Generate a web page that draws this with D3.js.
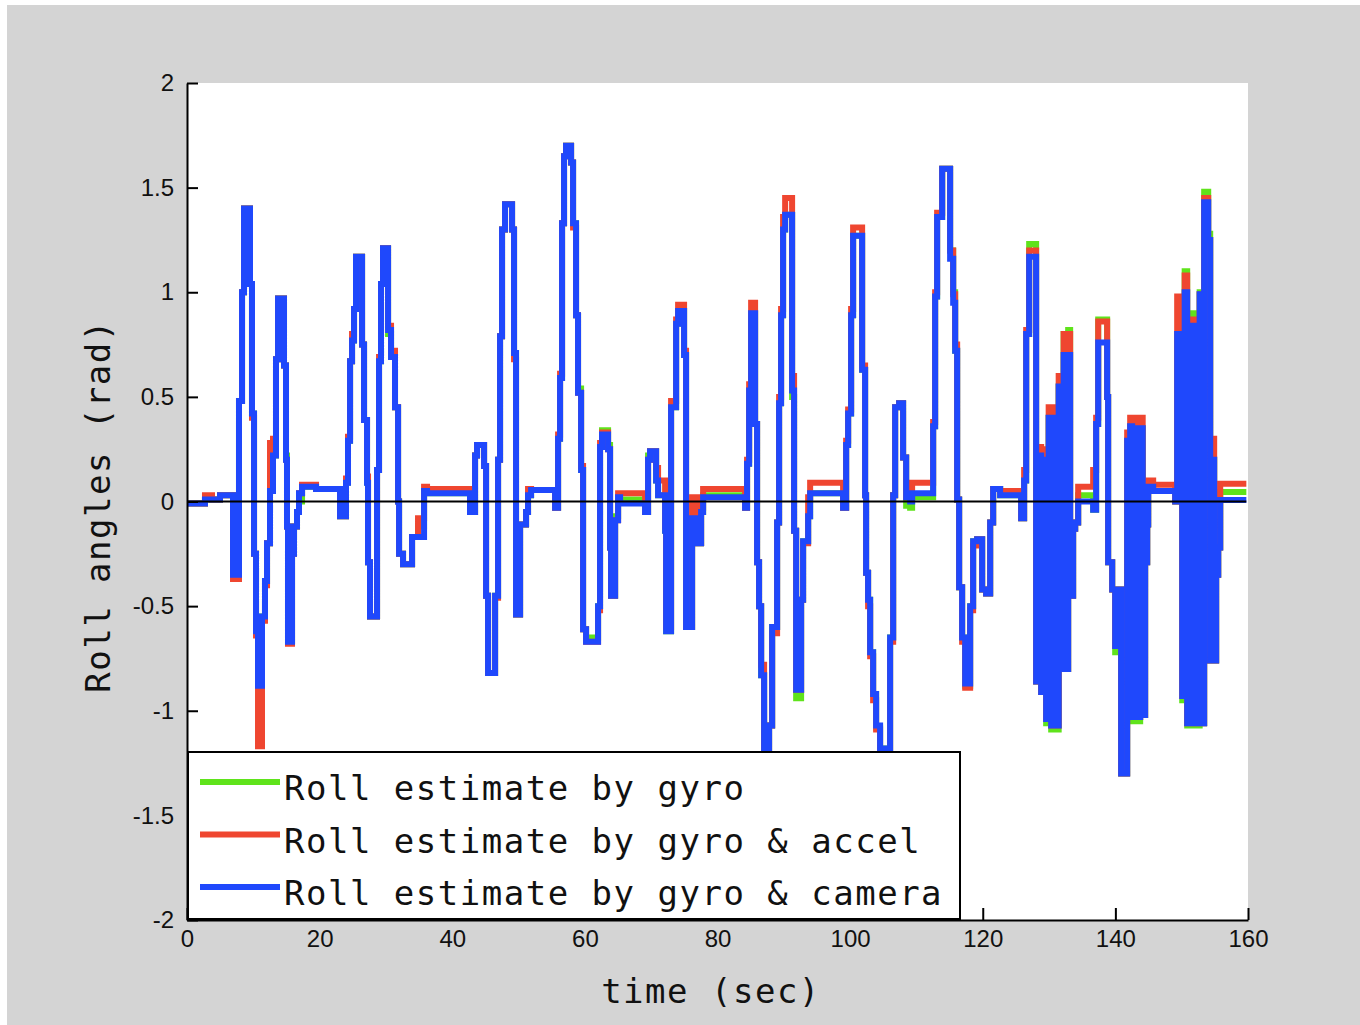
<!DOCTYPE html>
<html>
<head>
<meta charset="utf-8">
<script src="https://cdn.jsdelivr.net/npm/d3@7"></script>
<style>
  html, body { margin: 0; padding: 0; background: #fff; }
  svg { display: block; }
</style>
</head>
<body>
<svg id="chart" width="1360" height="1025"></svg>
<script>
// Sample times (sec) where the staircase estimates change value
const time = [
  0, 2.71, 3.77, 4.98, 6.94, 7.84, 8.30, 8.60, 9.50, 9.80,
  10.11, 10.41, 10.71, 11.31, 11.76, 12.07, 12.52, 12.97, 13.42, 13.73,
  14.63, 14.93, 15.08, 15.23, 15.84, 16.14, 16.59, 16.89, 17.35, 19.46,
  23.08, 23.98, 24.28, 24.59, 24.89, 25.19, 25.49, 26.40, 26.70, 27.15,
  27.30, 27.60, 28.66, 28.96, 29.26, 29.56, 30.32, 30.77, 31.37, 31.83,
  31.98, 32.58, 33.94, 34.84, 35.75, 36.20, 42.68, 43.44, 43.74, 44.80,
  45.10, 45.40, 46.46, 46.91, 47.21, 47.51, 47.96, 49.02, 49.32, 49.62,
  50.23, 51.13, 51.43, 51.89, 55.51, 55.96, 56.26, 56.56, 56.86, 57.16,
  57.92, 58.22, 58.67, 58.97, 59.43, 59.73, 60.18, 61.99, 62.29, 62.59,
  63.50, 63.80, 63.95, 64.56, 65.01, 65.31, 69.08, 69.53, 69.83, 70.74,
  71.04, 72.10, 72.25, 73.00, 73.76, 74.06, 74.96, 75.26, 76.17, 76.92,
  77.53, 77.83, 84.16, 84.46, 84.77, 85.07, 85.67, 85.97, 86.27, 86.58,
  87.03, 87.78, 88.24, 88.99, 89.29, 89.59, 89.89, 90.20, 91.25, 91.55,
  91.86, 92.61, 92.91, 93.67, 93.97, 98.94, 99.40, 99.70, 100.15, 100.45,
  101.81, 102.26, 102.41, 102.71, 103.02, 103.47, 103.92, 104.52, 106.03, 106.49,
  106.79, 107.39, 107.99, 108.45, 109.05, 109.35, 112.52, 112.82, 113.12, 113.88,
  115.08, 115.54, 115.84, 116.14, 116.44, 116.89, 117.35, 118.10, 118.55, 119.16,
  119.91, 120.51, 121.12, 121.57, 122.62, 125.79, 126.24, 126.55, 127.00, 128.05,
  128.43, 128.81, 129.19, 129.56, 129.94, 130.32, 130.69, 131.07, 131.45, 131.83,
  132.20, 132.58, 132.88, 133.18, 133.63, 133.94, 134.39, 136.65, 137.10, 137.41,
  138.76, 138.91, 139.52, 139.97, 140.57, 140.87, 141.78, 142.23, 142.53, 142.99,
  143.36, 143.74, 144.12, 144.49, 144.80, 144.95, 145.70, 149.02, 149.32, 150.08,
  150.45, 150.83, 151.21, 151.58, 151.96, 152.34, 152.71, 153.09, 153.39, 154.00,
  154.30, 154.68, 154.90, 155.20, 155.51, 155.81, 159.75
];

// Roll estimate by gyro (rad)
const gyro = [
  -0.01, 0.01, 0.01, 0.03, -0.35, 0.48, 1.0, 1.40, 1.04, 0.42,
  -0.25, -0.62, -0.88, -0.55, -0.38, -0.2, 0.1, 0.22, 0.68, 0.97,
  0.65, 0.22, -0.12, -0.67, -0.25, -0.12, -0.05, 0.0, 0.07, 0.06,
  -0.07, 0.09, 0.29, 0.67, 0.77, 0.92, 1.17, 0.75, 0.39, 0.09,
  -0.29, -0.55, 0.15, 0.67, 1.04, 1.21, 0.80, 0.69, 0.45, 0.0,
  -0.25, -0.3, -0.17, -0.12, 0.05, 0.04, -0.05, 0.22, 0.27, 0.17,
  -0.45, -0.82, -0.45, 0.2, 0.79, 1.3, 1.42, 1.3, 0.71, -0.54,
  -0.11, -0.05, 0.03, 0.055, -0.03, 0.3, 0.59, 1.33, 1.65, 1.70,
  1.62, 1.33, 0.89, 0.54, 0.15, -0.61, -0.65, -0.5, 0.26, 0.34,
  0.27, -0.22, -0.45, -0.07, 0.02, 0.01, -0.05, 0.22, 0.24, 0.1,
  0.03, -0.14, -0.62, 0.45, 0.85, 0.91, 0.7, -0.6, -0.08, -0.2,
  -0.05, 0.03, -0.03, 0.18, 0.53, 0.9, 0.37, -0.29, -0.5, -0.83,
  -1.19, -1.07, -0.6, -0.1, 0.47, 0.89, 1.3, 1.37, 0.5, -0.14,
  -0.94, -0.47, -0.19, -0.07, 0.04, -0.03, 0.27, 0.42, 0.89, 1.27,
  0.63, 0.03, -0.34, -0.47, -0.72, -0.92, -1.08, -1.18, -0.65, 0.03,
  0.45, 0.47, 0.21, -0.02, -0.03, 0.02, 0.36, 0.98, 1.36, 1.59,
  1.2, 1.0, 0.72, 0.01, -0.41, -0.65, -0.88, -0.5, -0.19, -0.18,
  -0.42, -0.44, -0.1, 0.06, 0.03, -0.08, 0.1, 0.8, 1.23, -0.86,
  0.22, -0.91, 0.2, -1.06, 0.4, -1.09, 0.4, -1.09, 0.55, -0.8,
  0.8, -0.8, 0.82, -0.45, -0.13, -0.1, 0.03, -0.04, 0.37, 0.87,
  0.5, -0.29, -0.42, -0.72, -0.42, -1.3, 0.29, 0.36, -1.05, 0.35,
  -1.05, 0.35, -1.02, -0.29, -0.11, 0.07, 0.05, 0.0, 0.8, -0.95,
  1.1, -1.07, 0.9, -1.07, 0.9, -1.07, 1.0, -1.06, 1.48, 1.28,
  -0.76, 0.2, -0.76, -0.35, -0.22, 0.045, 0.045
];

// Roll estimate by gyro & accel (rad)
const gyroAccel = [
  -0.01, 0.03, 0.01, 0.03, -0.37, 0.48, 1.0, 1.40, 1.04, 0.40,
  -0.25, -0.64, -1.17, -0.57, -0.40, -0.2, 0.28, 0.3, 0.68, 0.97,
  0.65, 0.2, -0.12, -0.68, -0.25, -0.12, -0.05, 0.04, 0.08, 0.06,
  -0.07, 0.11, 0.31, 0.67, 0.80, 0.92, 1.17, 0.75, 0.39, 0.12,
  -0.29, -0.55, 0.15, 0.69, 1.04, 1.21, 0.84, 0.72, 0.45, 0.0,
  -0.25, -0.3, -0.17, -0.08, 0.07, 0.06, -0.05, 0.22, 0.27, 0.17,
  -0.45, -0.82, -0.46, 0.2, 0.79, 1.3, 1.42, 1.3, 0.68, -0.54,
  -0.11, -0.05, 0.06, 0.055, -0.03, 0.32, 0.61, 1.33, 1.65, 1.70,
  1.62, 1.31, 0.89, 0.52, 0.17, -0.61, -0.67, -0.52, 0.28, 0.33,
  0.25, -0.22, -0.45, -0.09, 0.04, 0.04, -0.05, 0.2, 0.24, 0.16,
  0.1, -0.12, -0.60, 0.48, 0.87, 0.94, 0.72, -0.6, 0.02, -0.2,
  -0.03, 0.06, -0.03, 0.2, 0.56, 0.95, 0.37, -0.29, -0.5, -0.78,
  -1.19, -1.07, -0.63, -0.1, 0.5, 0.92, 1.36, 1.45, 0.6, -0.14,
  -0.9, -0.47, -0.2, 0.02, 0.09, -0.03, 0.29, 0.44, 0.92, 1.31,
  0.65, 0.03, -0.34, -0.5, -0.74, -0.95, -1.09, -1.2, -0.67, 0.03,
  0.45, 0.47, 0.21, 0.02, 0.02, 0.09, 0.38, 1.0, 1.38, 1.59,
  1.2, 0.99, 0.75, 0.01, -0.41, -0.67, -0.89, -0.52, -0.21, -0.18,
  -0.42, -0.44, -0.1, 0.06, 0.05, -0.08, 0.15, 0.82, 1.2, -0.86,
  0.26, -0.91, 0.25, -1.04, 0.45, -1.07, 0.45, -1.07, 0.6, -0.8,
  0.8, -0.8, 0.8, -0.45, -0.13, -0.1, 0.07, 0.15, 0.4, 0.86,
  0.5, -0.29, -0.42, -0.69, -0.42, -1.3, 0.33, 0.4, -1.03, 0.4,
  -1.03, 0.4, -1.02, -0.29, -0.11, 0.1, 0.08, 0.0, 0.98, -0.93,
  1.08, -1.06, 0.87, -1.06, 0.87, -1.06, 0.99, -1.06, 1.45, 1.25,
  -0.76, 0.3, -0.76, -0.35, -0.22, 0.085, 0.085
];

// Roll estimate by gyro & camera (rad)
const gyroCamera = [
  -0.01, 0.01, 0.01, 0.03, -0.35, 0.48, 1.0, 1.40, 1.04, 0.42,
  -0.25, -0.62, -0.88, -0.55, -0.38, -0.2, 0.05, 0.22, 0.68, 0.97,
  0.65, 0.2, -0.12, -0.67, -0.25, -0.12, -0.05, 0.04, 0.07, 0.06,
  -0.07, 0.09, 0.29, 0.67, 0.77, 0.92, 1.17, 0.75, 0.39, 0.09,
  -0.29, -0.55, 0.15, 0.67, 1.04, 1.21, 0.82, 0.69, 0.45, 0.0,
  -0.25, -0.3, -0.17, -0.17, 0.05, 0.04, -0.05, 0.22, 0.27, 0.17,
  -0.45, -0.82, -0.45, 0.2, 0.79, 1.3, 1.42, 1.3, 0.71, -0.54,
  -0.11, -0.05, 0.03, 0.055, -0.03, 0.3, 0.59, 1.33, 1.65, 1.70,
  1.62, 1.33, 0.89, 0.52, 0.15, -0.61, -0.67, -0.5, 0.26, 0.32,
  0.25, -0.22, -0.45, -0.09, 0.02, -0.01, -0.05, 0.2, 0.24, 0.1,
  0.03, -0.14, -0.62, 0.45, 0.85, 0.91, 0.7, -0.6, -0.08, -0.2,
  -0.05, 0.02, -0.03, 0.18, 0.53, 0.9, 0.37, -0.29, -0.5, -0.83,
  -1.19, -1.07, -0.6, -0.1, 0.47, 0.89, 1.3, 1.37, 0.53, -0.14,
  -0.9, -0.47, -0.19, -0.07, 0.04, -0.03, 0.27, 0.42, 0.89, 1.27,
  0.63, 0.03, -0.34, -0.47, -0.72, -0.92, -1.07, -1.18, -0.65, 0.03,
  0.45, 0.47, 0.21, 0.02, 0.0, 0.04, 0.36, 0.98, 1.36, 1.59,
  1.16, 0.95, 0.72, 0.01, -0.41, -0.65, -0.87, -0.5, -0.19, -0.18,
  -0.42, -0.44, -0.1, 0.06, 0.03, -0.08, 0.1, 0.8, 1.17, -0.86,
  0.22, -0.91, 0.2, -1.04, 0.4, -1.07, 0.4, -1.07, 0.55, -0.8,
  0.7, -0.8, 0.7, -0.45, -0.13, -0.1, 0.0, -0.04, 0.37, 0.76,
  0.5, -0.29, -0.42, -0.69, -0.42, -1.3, 0.29, 0.36, -1.03, 0.35,
  -1.03, 0.35, -1.02, -0.29, -0.11, 0.07, 0.05, 0.0, 0.8, -0.93,
  1.0, -1.06, 0.84, -1.06, 0.84, -1.06, 0.99, -1.06, 1.43, 1.25,
  -0.76, 0.2, -0.76, -0.35, -0.22, 0.007, 0.007
];

const xTicks = [0, 20, 40, 60, 80, 100, 120, 140, 160];
const yTicks = [-2, -1.5, -1, -0.5, 0, 0.5, 1, 1.5, 2];
const legendLabels = [
  "Roll estimate by gyro",
  "Roll estimate by gyro & accel",
  "Roll estimate by gyro & camera"
];
const seriesColors = ["#5fe31b", "#ef4630", "#1f48fc"];

const W = 1360, H = 1025;
const plot = { left: 187, right: 1248, top: 83, bottom: 920 };
const monoFont = "'DejaVu Sans Mono', monospace";
const tickFont = "'Liberation Sans', Arial, sans-serif";

const svg = d3.select("#chart");

// figure background and axes area
svg.append("rect").attr("width", W).attr("height", H).attr("fill", "#ffffff");
svg.append("rect").attr("x", 7).attr("y", 5).attr("width", W - 7).attr("height", H - 5)
  .attr("fill", "#d4d4d4");
svg.append("rect")
  .attr("x", plot.left).attr("y", plot.top)
  .attr("width", plot.right - plot.left).attr("height", plot.bottom - plot.top)
  .attr("fill", "#ffffff");

const x = d3.scaleLinear().domain([0, 160]).range([plot.left, plot.right]);
const y = d3.scaleLinear().domain([-2, 2]).range([plot.bottom, plot.top]);

const series = [
  { name: legendLabels[0], values: gyro, color: seriesColors[0] },
  { name: legendLabels[1], values: gyroAccel, color: seriesColors[1] },
  { name: legendLabels[2], values: gyroCamera, color: seriesColors[2] }
];

const stair = d3.line()
  .x(d => x(d[0]))
  .y(d => y(d[1]))
  .curve(d3.curveStepAfter);

const lines = svg.append("g");
series.forEach(s => {
  lines.append("path")
    .datum(time.map((t, i) => [t, s.values[i]]))
    .attr("d", stair)
    .attr("fill", "none")
    .attr("stroke", s.color)
    .attr("stroke-width", 6)
    .attr("stroke-linejoin", "miter");
});

// zero reference line
svg.append("line")
  .attr("x1", x(0)).attr("x2", x(time[time.length - 1]))
  .attr("y1", y(0)).attr("y2", y(0))
  .attr("stroke", "#000").attr("stroke-width", 2);

// axes with inward ticks
const yAxis = d3.axisLeft(y).tickValues(yTicks).tickSize(-11).tickSizeOuter(0)
  .tickPadding(13).tickFormat(d => String(d));
const xAxis = d3.axisBottom(x).tickValues(xTicks).tickSize(-12).tickSizeOuter(0)
  .tickPadding(10).tickFormat(d => String(d));

const gy = svg.append("g").attr("transform", `translate(${plot.left},0)`).call(yAxis);
const gx = svg.append("g").attr("transform", `translate(0,${plot.bottom})`).call(xAxis);
[gx, gy].forEach(g => {
  g.select(".domain").attr("stroke", "#000").attr("stroke-width", 2);
  g.selectAll(".tick line").attr("stroke", "#000").attr("stroke-width", 2);
  g.selectAll(".tick text")
    .attr("fill", "#111")
    .style("font-family", tickFont)
    .style("font-size", "24px");
});

// axis titles
svg.append("text")
  .attr("x", 711).attr("y", 1003)
  .attr("text-anchor", "middle")
  .style("font-family", monoFont).style("font-size", "34px")
  .style("letter-spacing", "1.5px")
  .attr("fill", "#111")
  .text("time (sec)");

svg.append("text")
  .attr("transform", "translate(110,506) rotate(-90)")
  .attr("text-anchor", "middle")
  .style("font-family", monoFont).style("font-size", "34px")
  .style("letter-spacing", "1.5px")
  .attr("fill", "#111")
  .text("Roll angles (rad)");

// legend
const legend = svg.append("g");
legend.append("rect")
  .attr("x", 188).attr("y", 752).attr("width", 772).attr("height", 167)
  .attr("fill", "#fff").attr("stroke", "#000").attr("stroke-width", 2);
series.forEach((s, i) => {
  const ly = 782 + i * 52.5;
  legend.append("line")
    .attr("x1", 200).attr("x2", 280).attr("y1", ly).attr("y2", ly)
    .attr("stroke", s.color).attr("stroke-width", 6);
  legend.append("text")
    .attr("x", 284).attr("y", ly + 18)
    .style("font-family", monoFont).style("font-size", "34px")
    .style("letter-spacing", "1.5px")
    .attr("fill", "#111")
    .text(s.name);
});
</script>
</body>
</html>
